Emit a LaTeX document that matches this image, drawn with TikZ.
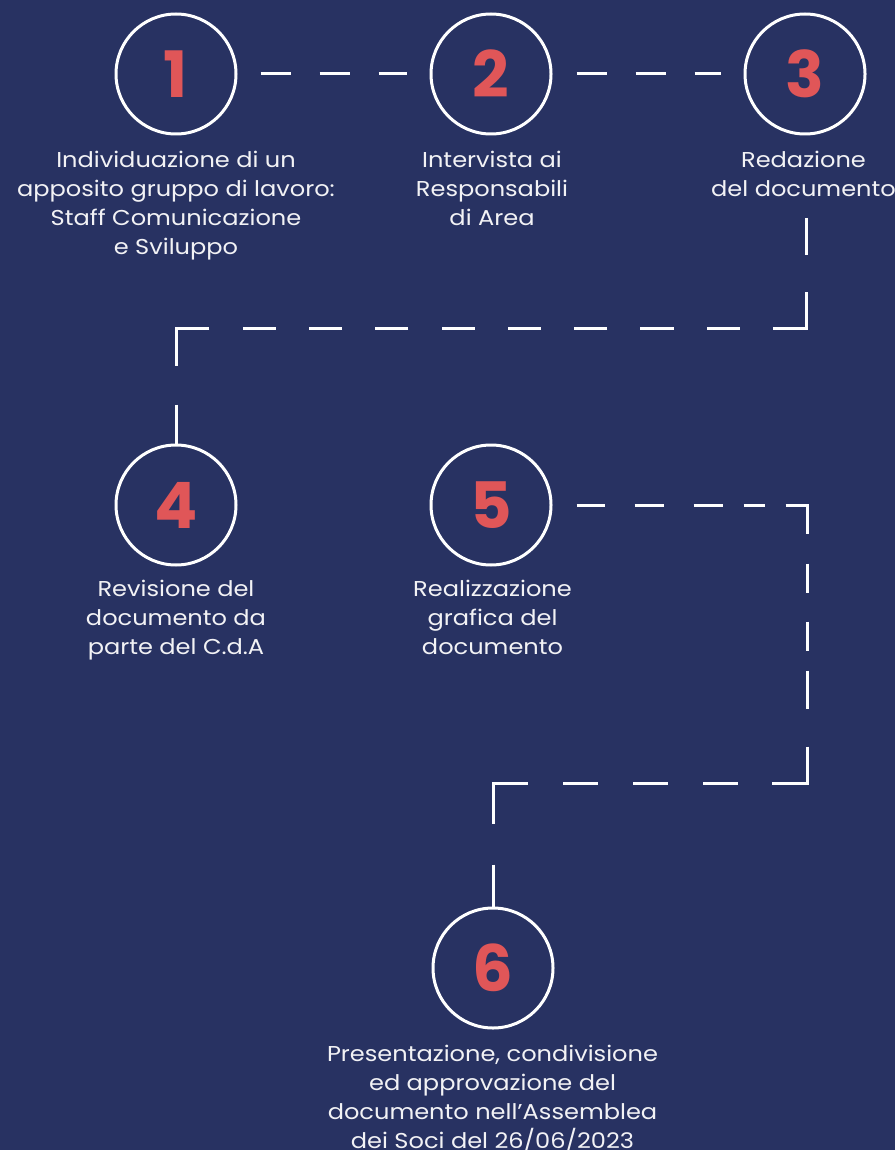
\documentclass[tikz,border=0pt]{standalone}
\usepackage{fontspec}
\setmainfont{Poppins}
\newfontfamily\lblfont[FakeStretch=1.12]{Poppins}
\definecolor{bgnavy}{RGB}{40,50,98}
\definecolor{numred}{RGB}{224,86,88}
\definecolor{txtwhite}{RGB}{242,242,245}
\begin{document}
\begin{tikzpicture}[x=1pt,y=-1pt,
  stepcircle/.style={circle,draw=white,line width=3pt,minimum size=120pt,inner sep=0pt,
    text=numred,font=\fontsize{64}{64}\selectfont\bfseries},
  steplabel/.style={anchor=north,inner sep=0pt,align=center,text=txtwhite,
    font=\lblfont\fontsize{21.5}{29}\selectfont},
  conn/.style={draw=white,line width=3pt,line cap=butt,line join=miter}]
\fill[bgnavy] (0,0) rectangle (895,1150);
\useasboundingbox (0,0) rectangle (895,1150);
% circles
\node[stepcircle] (c1) at (176,74) {1};
\node[stepcircle] (c2) at (491,74) {2};
\node[stepcircle] (c3) at (805,74) {3};
\node[stepcircle] (c4) at (176,505) {4};
\node[stepcircle] (c5) at (491,505) {5};
\node[stepcircle] (c6) at (493,968) {6};
% labels
\node[steplabel] (t1) at (176,146.7) {\strut Individuazione di un\\apposito gruppo di lavoro:\\Staff Comunicazione\\e Sviluppo};
\node[steplabel] (t2) at (492,146.7) {\strut Intervista ai\\Responsabili\\di Area};
\node[steplabel] (t3) at (803.5,146.7) {\strut Redazione\\del documento};
\node[steplabel] (t4) at (176,575.7) {\strut Revisione del\\documento da\\parte del C.d.A};
\node[steplabel] (t5) at (492.5,575.7) {\strut Realizzazione\\grafica del\\documento};
\node[steplabel] (t6) at (492.5,1041) {\strut Presentazione, condivisione\\ed approvazione del\\documento nell’Assemblea\\dei Soci del 26/06/2023};
% corner coordinates
\coordinate (s3) at (806,218);
\coordinate (k3a) at (806,328);
\coordinate (k3b) at (176,328);
\coordinate (k5a) at (807,505);
\coordinate (k5b) at (807,783);
\coordinate (k5c) at (493,783);
% connectors
\draw[conn,dash pattern=on 30pt off 29pt,shorten <=23pt,shorten >=23pt] (c1.east) -- (c2.west);
\draw[conn,dash pattern=on 30pt off 29pt,shorten <=24pt,shorten >=23pt] (c2.east) -- (c3.west);
\draw[conn,dash pattern=on 37pt off 37pt on 69pt off 33.15pt
  on 33.15pt off 33.15pt on 33.15pt off 33.15pt on 33.15pt off 33.15pt on 33.15pt off 33.15pt
  on 33.15pt off 33.15pt on 33.15pt off 33.15pt on 33.15pt off 33.15pt on 33.15pt off 33.15pt
  on 71pt off 39pt on 80pt off 10pt]
  (s3) -- (k3a) -- (k3b) -- (c4.north);
\draw[conn,shorten <=24pt,dash pattern=on 28pt off 30pt on 29pt off 30pt on 29pt off 21pt on 21pt off 21pt
  on 50pt off 30pt on 29pt off 29pt on 29pt off 20pt on 38pt off 38pt on 72pt off 34pt
  on 35pt off 35pt on 35pt off 35pt on 35pt off 35pt on 75pt off 41pt on 80pt off 10pt]
  (c5.east) -- (k5a) -- (k5b) -- (k5c) -- (c6.north);
\end{tikzpicture}
\end{document}
